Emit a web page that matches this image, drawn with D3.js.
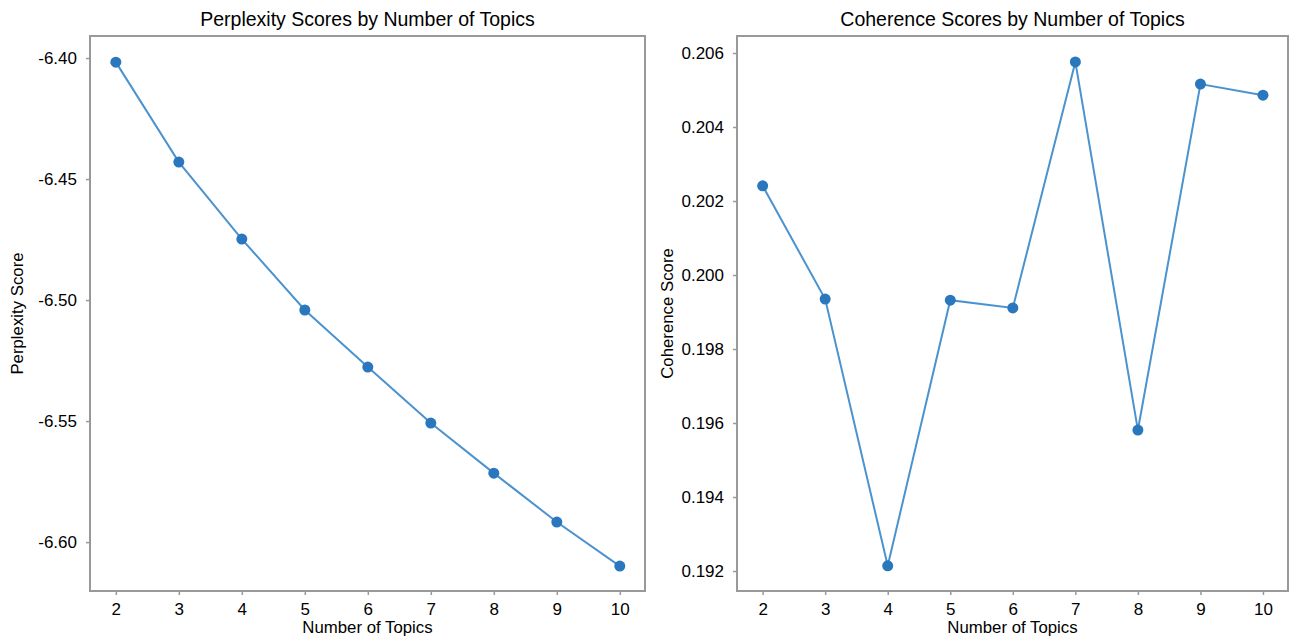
<!DOCTYPE html>
<html>
<head>
<meta charset="utf-8">
<script src="https://cdn.jsdelivr.net/npm/d3@7"></script>
<style>
  body { margin: 0; background: #fff; }
  svg { display: block; font-family: "Liberation Sans", Arial, sans-serif; }
</style>
</head>
<body>
<svg width="1290" height="637"></svg>
<script>
// number of topics on x
var topics = [2, 3, 4, 5, 6, 7, 8, 9, 10];
var perplexity = [-6.4017, -6.4430, -6.4748, -6.5041, -6.5277, -6.5508, -6.5715, -6.5917, -6.6099];
var coherence = [0.20241, 0.19935, 0.19214, 0.19932, 0.19911, 0.20576, 0.19581, 0.20516, 0.20486];
var perplexityTicks = [-6.40, -6.45, -6.50, -6.55, -6.60];
var coherenceTicks = [0.192, 0.194, 0.196, 0.198, 0.200, 0.202, 0.204, 0.206];

var svg = d3.select("svg");
var lineColor = "#4b93cf", dotColor = "#2a77bd";

// plain hyphen instead of unicode minus
var fmt = function(spec) {
  var f = d3.format(spec);
  return function(d) { return f(d).replace("\u2212", "-"); };
};

function drawPanel(opts) {
  var left = opts.left, right = opts.right, top = 36, bottom = 591;

  var x = d3.scaleLinear().domain([1.59, 10.4]).range([left, right]);
  var y = d3.scaleLinear().domain(opts.yDomain).range([bottom, top]);

  var g = svg.append("g");

  // frame
  g.append("rect")
    .attr("x", left).attr("y", top)
    .attr("width", right - left).attr("height", bottom - top)
    .attr("fill", "none").attr("stroke", "#999").attr("stroke-width", 2);

  var xAxis = g.append("g")
    .attr("transform", "translate(0," + bottom + ")")
    .call(d3.axisBottom(x).tickValues(topics).tickSize(4).tickPadding(8).tickFormat(d3.format("d")));
  var yAxis = g.append("g")
    .attr("transform", "translate(" + left + ",0)")
    .call(d3.axisLeft(y).tickValues(opts.ticks).tickSize(4).tickPadding(9).tickFormat(opts.fmt));

  [xAxis, yAxis].forEach(function(a) {
    a.select(".domain").remove();
    a.selectAll(".tick line").attr("stroke", "#999").attr("stroke-width", 1.5);
    a.selectAll(".tick text").attr("fill", "#000").style("font-size", "17px")
      .style("font-family", "'Liberation Sans', Arial, sans-serif");
  });

  var line = d3.line()
    .x(function(d, i) { return x(topics[i]); })
    .y(function(d) { return y(d); });

  g.append("path")
    .datum(opts.values)
    .attr("d", line)
    .attr("fill", "none")
    .attr("stroke", lineColor)
    .attr("stroke-width", 2);

  g.selectAll("circle")
    .data(opts.values)
    .enter()
    .append("circle")
    .attr("cx", function(d, i) { return x(topics[i]); })
    .attr("cy", function(d) { return y(d); })
    .attr("r", 5.5)
    .attr("fill", dotColor);

  g.append("text")
    .attr("x", (left + right) / 2).attr("y", 26)
    .attr("text-anchor", "middle")
    .style("font-size", "19.5px").attr("fill", "#000")
    .text(opts.title);

  g.append("text")
    .attr("x", (left + right) / 2).attr("y", 633)
    .attr("text-anchor", "middle")
    .style("font-size", "16.8px").attr("fill", "#000")
    .text("Number of Topics");

  g.append("text")
    .attr("transform", "translate(" + opts.yLabelX + "," + (top + bottom) / 2 + ") rotate(-90)")
    .attr("text-anchor", "middle")
    .style("font-size", "16.8px").attr("fill", "#000")
    .text(opts.yLabel);
}

drawPanel({
  left: 90, right: 645,
  yDomain: [-6.6202, -6.3909],
  ticks: perplexityTicks,
  fmt: fmt(".2f"),
  values: perplexity,
  title: "Perplexity Scores by Number of Topics",
  yLabel: "Perplexity Score",
  yLabelX: 23
});

drawPanel({
  left: 737, right: 1288,
  yDomain: [0.19146, 0.20646],
  ticks: coherenceTicks,
  fmt: fmt(".3f"),
  values: coherence,
  title: "Coherence Scores by Number of Topics",
  yLabel: "Coherence Score",
  yLabelX: 673
});
</script>
</body>
</html>
